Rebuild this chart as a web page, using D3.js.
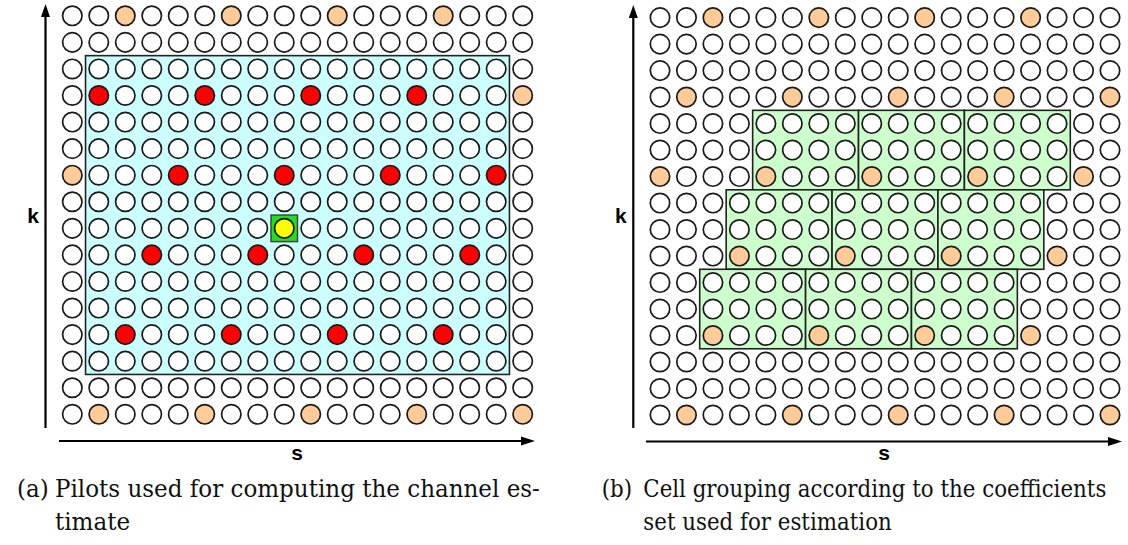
<!DOCTYPE html>
<html>
<head>
<meta charset="utf-8">
<script src="https://cdn.jsdelivr.net/npm/d3@7"></script>
<style>
  html, body { margin: 0; padding: 0; background: #fff; }
  svg { display: block; }
  .cap { font-family: 'DejaVu Serif', 'Liberation Serif', serif; }
  .lab { font-family: 'Liberation Sans', 'DejaVu Sans', sans-serif; font-weight: bold; }
</style>
</head>
<body>
<svg id="chart" width="1128" height="545"></svg>
<script>
// ---------- data ----------
const subcarriers = [0,1,2,3,4,5,6,7,8,9,10,11,12,13,14,15,16,17];   // s (columns)
const symbols     = [0,1,2,3,4,5,6,7,8,9,10,11,12,13,14,15];         // k (rows, from top)
const pilotRows   = [0, 3, 6, 9, 12, 15];
const pilotCols   = [
  [2, 6, 10, 14],
  [1, 5, 9, 13, 17],
  [0, 4, 8, 12, 16],
  [3, 7, 11, 15],
  [2, 6, 10, 14],
  [1, 5, 9, 13, 17]
];
// panel (a): region of pilots used for estimation, and the estimated cell
const usedRegion  = { colStart: 1, colEnd: 16, rowStart: 2, rowEnd: 13 };
const targetCell  = { col: 8, row: 8 };
// panel (b): cell groups sharing a coefficient set (4 columns x 3 rows each)
const groupRows   = [[4, 6], [7, 9], [10, 12]];
const groupStarts = [[4, 8, 12], [3, 7, 11], [2, 6, 10]];
const groupWidth  = 4;
const axisLabels  = ["k", "s"];
const captionA    = ["(a)", "Pilots used for computing the channel es-", "timate"];
const captionB    = ["(b)", "Cell grouping according to the coefficients", "set used for estimation"];

// ---------- drawing ----------
const svg = d3.select("#chart");
const isPilot = (r, c) => {
  const i = pilotRows.indexOf(r);
  return i >= 0 && pilotCols[i].includes(c);
};

const COL = {
  white: "#ffffff", orange: "#ffcc99", red: "#ff0000", yellow: "#ffff00",
  blue: "#ccffff", green: "#ccffcc", target: "#22dd22", stroke: "#1a1a1a", box: "#222222"
};
const R = 9.7;

function panel(cfg) {
  const g = svg.append("g");
  const x = d3.scaleLinear().domain([subcarriers[0], subcarriers[subcarriers.length - 1]]).range([cfg.x0, cfg.x1]);
  const y = d3.scaleLinear().domain([symbols[0], symbols[symbols.length - 1]]).range([cfg.y0, cfg.y1]);
  const dx = (x(1) - x(0)) / 2, dy = (y(1) - y(0)) / 2;

  cfg.background(g, x, y, dx, dy);

  const cells = [];
  symbols.forEach(r => subcarriers.forEach(c => cells.push({ r, c })));
  g.selectAll("circle.cell").data(cells).join("circle")
    .attr("class", "cell")
    .attr("cx", d => x(d.c)).attr("cy", d => y(d.r)).attr("r", R)
    .attr("fill", d => cfg.fill(d))
    .attr("stroke", COL.stroke).attr("stroke-width", 1.7);

  // axes
  const ax = cfg.axis;
  g.append("line").attr("x1", ax.vx).attr("x2", ax.vx).attr("y1", ax.vBottom).attr("y2", ax.vTop + 10)
    .attr("stroke", "#000").attr("stroke-width", 2.2);
  g.append("path").attr("d", `M${ax.vx},${ax.vTop} L${ax.vx - 4.5},${ax.vTop + 13} L${ax.vx + 4.5},${ax.vTop + 13} Z`).attr("fill", "#000");
  g.append("line").attr("x1", ax.hLeft).attr("x2", ax.hRight - 10).attr("y1", ax.hy).attr("y2", ax.hy)
    .attr("stroke", "#000").attr("stroke-width", 2.2);
  g.append("path").attr("d", `M${ax.hRight},${ax.hy} L${ax.hRight - 14},${ax.hy - 4.5} L${ax.hRight - 14},${ax.hy + 4.5} Z`).attr("fill", "#000");

  g.append("text").attr("class", "lab").text(axisLabels[0]).attr("x", ax.kx).attr("y", 223)
    .attr("text-anchor", "middle").attr("font-size", 21);
  g.append("text").attr("class", "lab").text(axisLabels[1]).attr("x", (ax.hLeft + ax.hRight) / 2).attr("y", 460)
    .attr("text-anchor", "middle").attr("font-size", 21);
}

// Panel (a)
panel({
  x0: 72.3, x1: 522.7, y0: 15.8, y1: 414.3,
  background: (g, x, y, dx, dy) => {
    g.append("rect")
      .attr("x", x(usedRegion.colStart) - dx).attr("y", y(usedRegion.rowStart) - dy)
      .attr("width", x(usedRegion.colEnd) - x(usedRegion.colStart) + 2 * dx)
      .attr("height", y(usedRegion.rowEnd) - y(usedRegion.rowStart) + 2 * dy)
      .attr("fill", COL.blue).attr("stroke", COL.box).attr("stroke-width", 1.6);
    g.append("rect")
      .attr("x", x(targetCell.col) - dx).attr("y", y(targetCell.row) - dy)
      .attr("width", 2 * dx).attr("height", 2 * dy)
      .attr("fill", COL.target).attr("stroke", "#444").attr("stroke-width", 1.5);
  },
  fill: d => {
    if (d.r === targetCell.row && d.c === targetCell.col) return COL.yellow;
    if (isPilot(d.r, d.c)) {
      const inside = d.c >= usedRegion.colStart && d.c <= usedRegion.colEnd &&
                     d.r >= usedRegion.rowStart && d.r <= usedRegion.rowEnd;
      return inside ? COL.red : COL.orange;
    }
    return COL.white;
  },
  axis: { vx: 45.5, vTop: 4, vBottom: 428, hy: 441, hLeft: 59, hRight: 535, kx: 33 }
});

// Panel (b)
panel({
  x0: 660, x1: 1110, y0: 17.6, y1: 415,
  background: (g, x, y, dx, dy) => {
    const boxes = [];
    groupRows.forEach((rr, i) => groupStarts[i].forEach(c0 => boxes.push({ r0: rr[0], r1: rr[1], c0, c1: c0 + groupWidth - 1 })));
    g.selectAll("rect.grp").data(boxes).join("rect")
      .attr("class", "grp")
      .attr("x", d => x(d.c0) - dx).attr("y", d => y(d.r0) - dy)
      .attr("width", d => x(d.c1) - x(d.c0) + 2 * dx)
      .attr("height", d => y(d.r1) - y(d.r0) + 2 * dy)
      .attr("fill", COL.green).attr("stroke", COL.box).attr("stroke-width", 1.6);
  },
  fill: d => isPilot(d.r, d.c) ? COL.orange : COL.white,
  axis: { vx: 633.3, vTop: 5, vBottom: 428, hy: 441.5, hLeft: 646, hRight: 1122, kx: 620.8 }
});

// ---------- captions ----------
const FS = 24;
function caption(lines, xLabel, xText, targetWidth) {
  const g = svg.append("g").attr("class", "cap").attr("fill", "#111").attr("font-size", FS);
  const specs = [[lines[0], xLabel, 497], [lines[1], xText, 497], [lines[2], xText, 529.5]];
  const ts = specs.map(s => g.append("text").text(s[0]).attr("x", 0).attr("y", 0));
  const ratio = targetWidth / ts[1].node().getComputedTextLength();
  ts.forEach((t, i) => t.attr("transform", `translate(${specs[i][1]},${specs[i][2]}) scale(${ratio},1)`));
}
caption(captionA, 17, 55, 485);
caption(captionB, 601.7, 643.3, 463.4);
</script>
</body>
</html>
